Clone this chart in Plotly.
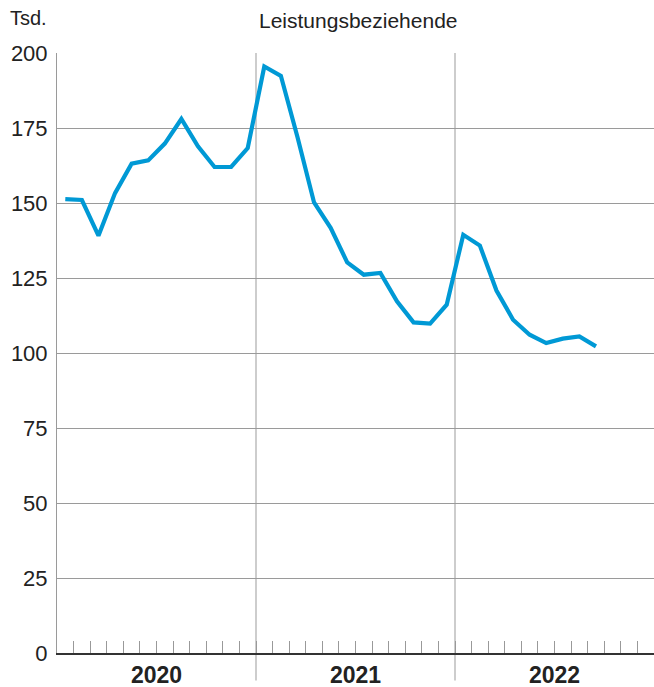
import plotly.graph_objects as go

# Monthly values, Jan 2020 - Sep 2022 (thousands)
months = [
    "2020-01", "2020-02", "2020-03", "2020-04", "2020-05", "2020-06",
    "2020-07", "2020-08", "2020-09", "2020-10", "2020-11", "2020-12",
    "2021-01", "2021-02", "2021-03", "2021-04", "2021-05", "2021-06",
    "2021-07", "2021-08", "2021-09", "2021-10", "2021-11", "2021-12",
    "2022-01", "2022-02", "2022-03", "2022-04", "2022-05", "2022-06",
    "2022-07", "2022-08", "2022-09",
]
leistungsbeziehende = [
    151.3, 151.0, 139.1, 153.3, 163.1, 164.2, 169.8, 178.0, 168.9, 162.0, 162.0, 168.3,
    195.5, 192.4, 172.0, 150.2, 141.7, 130.2, 126.1, 126.7, 117.2, 110.2, 109.8, 116.1,
    139.4, 135.8, 120.8, 111.1, 106.1, 103.3, 104.8, 105.5, 102.2,
]
years = ["2020", "2021", "2022"]
y_ticks = [0, 25, 50, 75, 100, 125, 150, 175, 200]

# month index -> position at the middle of each month
x_pos = [i + 0.5 for i in range(len(months))]
n_months = 12 * len(years)

FONT = "Liberation Sans, Arial, sans-serif"
GRID = "#9a9a9a"
SEP = "#bdbdbd"

fig = go.Figure()
fig.add_trace(go.Scatter(
    x=x_pos, y=leistungsbeziehende, mode="lines",
    line=dict(color="#0099d5", width=4.2, shape="linear"),
    hoverinfo="skip", showlegend=False,
))

fig.update_layout(
    width=654, height=687,
    margin=dict(l=57, r=0, t=53, b=34),
    paper_bgcolor="white", plot_bgcolor="white",
    font=dict(family=FONT, color="#222222"),
    showlegend=False,
    xaxis=dict(
        range=[0, n_months], showgrid=False, zeroline=False,
        showline=True, linecolor="#333333", linewidth=2,
        ticks="inside", ticklen=12, tickwidth=1, tickcolor="#999999",
        tickvals=list(range(1, n_months)), showticklabels=False,
        fixedrange=True,
    ),
    yaxis=dict(
        range=[0, 200], tickvals=y_ticks, ticktext=[str(v) for v in y_ticks],
        showgrid=True, gridcolor=GRID, gridwidth=1, zeroline=False,
        showline=True, linecolor=GRID, linewidth=1,
        ticks="", tickfont=dict(size=22, color="#222222"),
        ticklabelstandoff=4, fixedrange=True,
    ),
)

# year separators, running from the top edge down below the axis
for k in range(1, len(years)):
    xf = 12 * k / n_months
    fig.add_shape(type="line", xref="paper", yref="paper",
                  x0=xf, x1=xf, y0=-0.046, y1=1.0,
                  line=dict(color=SEP, width=1.5), layer="below")

# year labels centred in each year block
for k, yr in enumerate(years):
    fig.add_annotation(x=(12 * k + 6) / n_months, xref="paper", xanchor="center",
                       y=-0.036, yref="paper", yanchor="middle",
                       text=f"<b>{yr}</b>", showarrow=False,
                       font=dict(size=23, family=FONT, color="#222222"))

fig.add_annotation(x=0, xref="paper", xanchor="left", xshift=-49,
                   y=1.0, yref="paper", yshift=35, yanchor="middle",
                   text="Tsd.", showarrow=False,
                   font=dict(size=20, family=FONT, color="#222222"))
fig.add_annotation(x=0.505, xref="paper", xanchor="center",
                   y=1.0, yref="paper", yshift=33, yanchor="middle",
                   text="Leistungsbeziehende", showarrow=False,
                   font=dict(size=21, family=FONT, color="#222222"))

fig.write_html("out.html")
